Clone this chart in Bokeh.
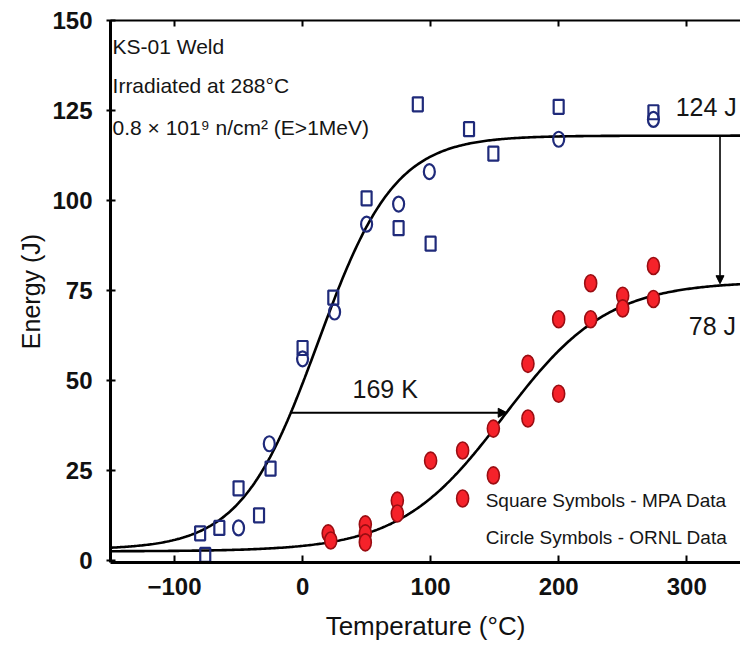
import numpy as np
from bokeh.plotting import figure
from bokeh.models import Range1d, LinearAxis, FixedTicker, Arrow, NormalHead, Label
from bokeh.embed import file_html
from bokeh.resources import INLINE

# ---- data ----
# Unirradiated, MPA data (squares)
mpa_T = [-80, -76, -65, -50, -34, -25, 0, 24, 50, 75, 90, 100, 130, 149, 200, 274]
mpa_E = [7.5, 1.5, 9.0, 20.0, 12.5, 25.5, 59.0, 73.0, 100.6, 92.3, 126.7, 88.0, 119.8, 113.0, 126.0, 124.5]
# Unirradiated, ORNL data (circles)
ornl_T = [-50, -26, 0, 25, 50, 75, 99, 200, 274]
ornl_E = [9.0, 32.4, 56.0, 69.0, 93.4, 99.0, 108.0, 117.0, 122.5]
# Irradiated data (red circles)
irr_T = [20, 22, 49, 49, 49, 74, 74, 100, 125, 125, 149, 149, 176, 176, 200, 200, 225, 225, 250, 250, 274, 274]
irr_E = [7.5, 5.5, 10.0, 7.5, 5.0, 16.6, 13.0, 27.7, 30.5, 17.2, 36.6, 23.6, 39.4, 54.6, 46.3, 67.0, 77.0, 67.0, 73.5, 70.0, 81.8, 72.6]

# tanh fit parameters (lower shelf, upper shelf, T0, C)
fit_unirr = (3.0, 118.0, 12.0, 60.0)
fit_irr = (2.5, 77.5, 157.0, 81.0)

shift_K = 169
ref_energy = 41.0
arrow_T = 326
upper_label = "124 J"
lower_label = "78 J"
x_ticks = [-100, 0, 100, 200, 300]
y_ticks = [0, 25, 50, 75, 100, 125, 150]

def tanh_curve(T, p):
    ls, us, t0, c = p
    a = (us + ls) / 2.0
    b = (us - ls) / 2.0
    return a + b * np.tanh((T - t0) / c)

def tanh_inverse(E, p):
    ls, us, t0, c = p
    a = (us + ls) / 2.0
    b = (us - ls) / 2.0
    return t0 + c * np.arctanh((E - a) / b)

XMIN, XMAX = -150, 342
T_curve = np.linspace(XMIN, XMAX, 400)

p = figure(width=740, height=658, x_range=Range1d(XMIN, XMAX), y_range=Range1d(-0.6, 150),
           output_backend="svg", toolbar_location=None,
           min_border_left=110, min_border_right=0, min_border_top=20, min_border_bottom=96)
p.outline_line_color = None
p.xgrid.visible = False
p.ygrid.visible = False
p.background_fill_color = "white"
p.border_fill_color = "white"

# curves
p.line(T_curve, tanh_curve(T_curve, fit_unirr), line_color="black", line_width=2.6)
p.line(T_curve, tanh_curve(T_curve, fit_irr), line_color="black", line_width=2.6)

# markers
blue = "#1f2a7a"
p.rect(mpa_T, mpa_E, width=10, height=14, width_units="screen", height_units="screen",
       fill_color="white", fill_alpha=0.0, line_color=blue, line_width=2.2)
p.ellipse(ornl_T, ornl_E, width=11, height=15, width_units="screen", height_units="screen",
          fill_color="white", fill_alpha=0.0, line_color=blue, line_width=2.2)
p.ellipse(irr_T, irr_E, width=12, height=17, width_units="screen", height_units="screen",
          fill_color="#f5222a", line_color="#9a0d12", line_width=1.6)

# arrows
t_start = float(tanh_inverse(ref_energy, fit_unirr))
p.add_layout(Arrow(end=NormalHead(size=9, fill_color="black", line_color="black"),
                   x_start=t_start, y_start=ref_energy, x_end=t_start + shift_K, y_end=ref_energy,
                   line_width=2, line_color="black"))
y_top = float(tanh_curve(np.array([arrow_T]), fit_unirr)[0])
y_bot = float(tanh_curve(np.array([arrow_T]), fit_irr)[0])
p.add_layout(Arrow(end=NormalHead(size=8, fill_color="black", line_color="black"),
                   x_start=arrow_T, y_start=y_top, x_end=arrow_T, y_end=y_bot + 0.5,
                   line_width=1.6, line_color="black"))

# axes styling
FONT = "Liberation Sans"
for ax in (p.xaxis[0], p.yaxis[0]):
    ax.axis_line_width = 3
    ax.axis_line_color = "black"
    ax.major_tick_line_width = 2
    ax.major_tick_line_color = "black"
    ax.minor_tick_line_color = None
    ax.major_label_text_font = FONT
    ax.major_label_text_font_style = "bold"
    ax.major_label_text_font_size = "24px"
    ax.major_label_text_color = "#111111"
    ax.axis_label_text_font = FONT
    ax.axis_label_text_font_style = "normal"
    ax.axis_label_text_color = "#111111"

p.xaxis.ticker = FixedTicker(ticks=x_ticks)
p.xaxis.major_label_overrides = {-100: "\u2212100"}
p.xaxis.major_tick_in = 7
p.xaxis.major_tick_out = 0
p.xaxis.major_label_standoff = 15
p.xaxis.axis_label = "Temperature (\u00b0C)"
p.xaxis.axis_label_text_font_size = "26px"
p.xaxis.axis_label_standoff = 13

p.yaxis.ticker = FixedTicker(ticks=y_ticks)
p.yaxis.major_tick_in = 5
p.yaxis.major_tick_out = 4
p.yaxis.major_label_standoff = 14
p.yaxis.axis_label = "Energy (J)"
p.yaxis.axis_label_text_font_size = "25px"
p.yaxis.axis_label_standoff = 4

top = LinearAxis(ticker=FixedTicker(ticks=x_ticks), axis_line_width=2, major_tick_in=6, major_tick_out=0,
                 major_tick_line_width=2, minor_tick_line_color=None,
                 major_label_overrides={t: "" for t in x_ticks}, major_label_standoff=0)
p.add_layout(top, "above")

# text annotations
def lab(x, y, text, size="24px"):
    p.add_layout(Label(x=x, y=y, text=text, text_font=FONT, text_font_size=size,
                       text_color="#151515", text_baseline="middle", text_align="left"))

lab(-148.4, 142.8, "KS-01 Weld", "21px")
lab(-148.4, 132.0, "Irradiated at 288\u00b0C", "21px")
lab(-148.4, 120.3, "0.8 \u00d7 101\u2079 n/cm\u00b2 (E>1MeV)", "21px")
lab(291.4, 126.0, upper_label, "25px")
lab(301.6, 65.0, lower_label, "25px")
lab(39.0, 47.7, f"{shift_K} K", "25px")
lab(143.0, 16.6, "Square Symbols - MPA Data", "19px")
lab(143.0, 6.4, "Circle Symbols - ORNL Data", "19px")

open("out.html", "w").write(file_html(p, INLINE))
